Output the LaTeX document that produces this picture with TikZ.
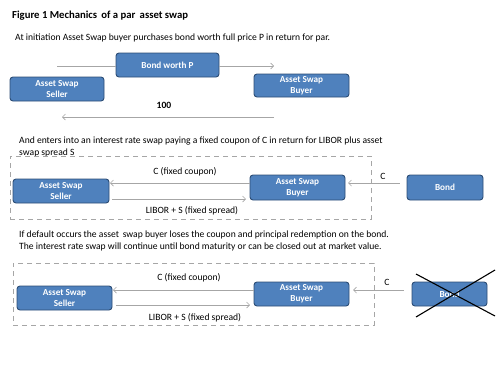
\documentclass[tikz,border=0pt]{standalone}
\usepackage{fontspec}
\setmainfont{Carlito}
\usetikzlibrary{arrows.meta}
\definecolor{boxfill}{HTML}{4F81BD}
\definecolor{boxline}{HTML}{2C4D75}
\definecolor{arrgray}{HTML}{A6A6A6}
\definecolor{dashgray}{HTML}{A6A6A6}
\tikzset{
  party/.style={draw=boxline, fill=boxfill, line width=0.9pt, rounded corners=3pt,
    text=white, font=\fontsize{9.2}{11}\selectfont\bfseries, align=center,
    inner sep=0pt},
  flow/.style={draw=arrgray, line width=0.7pt, -{Straight Barb[length=3pt,width=6pt]}},
  plain/.style={draw=arrgray, line width=0.7pt},
  txt/.style={font=\fontsize{9.6}{12}\selectfont, inner sep=0pt, align=left, anchor=west},
  lbl/.style={font=\fontsize{9.6}{10}\selectfont, inner sep=0pt},
  frame/.style={draw=dashgray, line width=0.8pt, dash pattern=on 5pt off 4pt},
  crossline/.style={draw=black, line width=1.1pt}
}
\begin{document}
\begin{tikzpicture}[x=1pt,y=-1pt]
\useasboundingbox (0,0) rectangle (500,375);
% title and text
\node[txt, font=\fontsize{10.7}{12}\selectfont\bfseries] (title) at (12,16) {Figure 1 Mechanics \,of a par \,asset swap};
\node[txt] (t1) at (15,38) {At initiation Asset Swap buyer purchases bond worth full price P in return for par.};
% section 1
\node[party, minimum width=103pt, minimum height=24pt] (bp) at (167.5,65) {Bond worth P};
\node[party, minimum width=94pt, minimum height=24pt] (s1) at (57,89) {Asset Swap\\Seller};
\node[party, minimum width=95pt, minimum height=23pt] (b1) at (301.5,85.5) {Asset Swap\\Buyer};
\coordinate (p1a) at (57,66);
\coordinate (p1b) at (274,66);
\draw[plain] (p1a) -- (bp.west |- p1a);
\draw[flow] (bp.east |- p1b) -- (p1b);
\coordinate (q1a) at (274,117);
\coordinate (q1b) at (62,117);
\draw[flow] (q1a) -- (q1b);
\node[lbl, font=\fontsize{9.6}{10}\selectfont\bfseries] (hundred) at (164,105) {100};
% section 2
\node[txt] (t2) at (19,147) {And enters into an interest rate swap paying a fixed coupon of C in return for LIBOR plus asset\\swap spread S};
\node[frame, minimum width=361pt, minimum height=63pt, inner sep=0pt] (f2) at (190.5,187.5) {};
\node[party, minimum width=96pt, minimum height=24pt] (s2) at (61,191) {Asset Swap\\Seller};
\node[party, minimum width=95pt, minimum height=25pt] (b2) at (297.5,187.5) {Asset Swap\\Buyer};
\node[party, minimum width=76pt, minimum height=25pt] (bond2) at (445,187.5) {Bond};
\coordinate (c2a) at (110,183);
\draw[flow] (b2.west |- c2a) -- (c2a);
\coordinate (c2b) at (246,199);
\draw[flow] (s2.east |- c2b) ++(3,0) -- (c2b);
\coordinate (c2c) at (348,183);
\draw[flow] (bond2.west |- c2c) ++(-7,0) -- (c2c);
\node[lbl] (l2a) at (185,172) {C (fixed coupon)};
\node[lbl] (l2b) at (192,211) {LIBOR + S (fixed spread)};
\node[lbl] (l2c) at (383,176) {C};
% section 3
\node[txt] (t3) at (19,241) {If default occurs the asset \,swap buyer loses the coupon and principal redemption on the bond.\\The interest rate swap will continue until bond maturity or can be closed out at market value.};
\node[frame, minimum width=361pt, minimum height=62pt, inner sep=0pt] (f3) at (193.5,294) {};
\node[party, minimum width=95pt, minimum height=24pt] (s3) at (64.5,298) {Asset Swap\\Seller};
\node[party, minimum width=95pt, minimum height=24pt] (b3) at (301.5,294) {Asset Swap\\Buyer};
\node[party, minimum width=75pt, minimum height=24pt] (bond3) at (449.5,294) {Bond};
\coordinate (c3a) at (113,290);
\draw[flow] (b3.west |- c3a) -- (c3a);
\coordinate (c3b) at (250,305);
\draw[flow] (s3.east |- c3b) ++(4,0) -- (c3b);
\coordinate (c3c) at (353,290);
\draw[flow] (bond3.west |- c3c) ++(-8,0) -- (c3c);
\node[lbl] (l3a) at (189,278) {C (fixed coupon)};
\node[lbl] (l3b) at (195,318) {LIBOR + S (fixed spread)};
\node[lbl] (l3c) at (387,282) {C};
\coordinate (x1) at (416,274);
\coordinate (x2) at (495,316);
\coordinate (x3) at (416,317);
\coordinate (x4) at (495,270);
\draw[crossline] (x1) -- (x2);
\draw[crossline] (x3) -- (x4);
\end{tikzpicture}
\end{document}
